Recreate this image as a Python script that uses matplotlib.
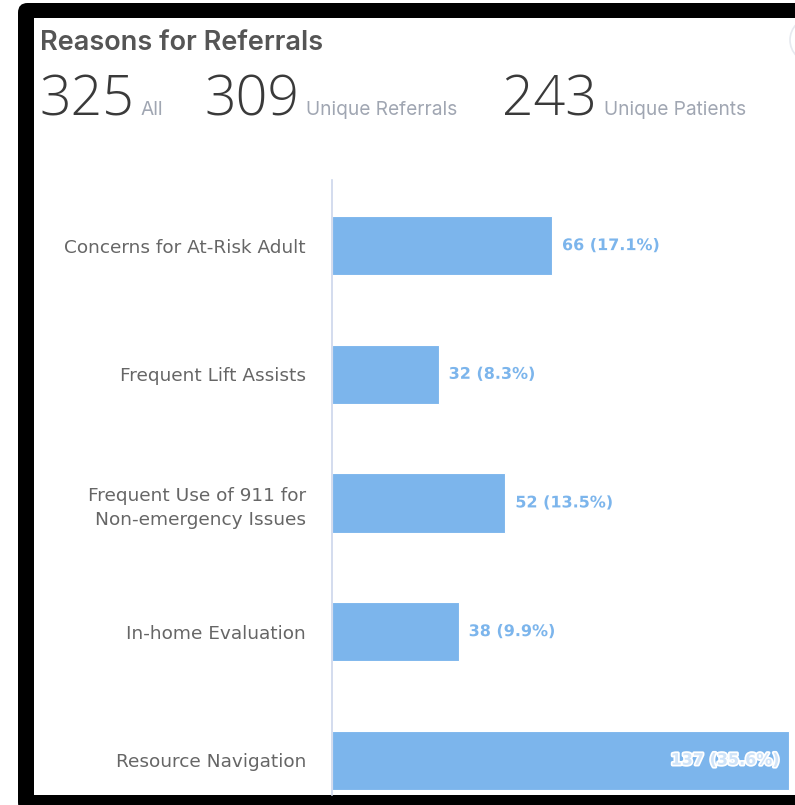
import matplotlib
matplotlib.use("Agg")
import matplotlib.pyplot as plt
from matplotlib.patches import FancyBboxPatch, Rectangle, Circle
import matplotlib.patheffects as pe

categories = [
    "Concerns for At-Risk Adult",
    "Frequent Lift Assists",
    "Frequent Use of 911 for\nNon-emergency Issues",
    "In-home Evaluation",
    "Resource Navigation",
]
counts = [66, 32, 52, 38, 137]
percents = [17.1, 8.3, 13.5, 9.9, 35.6]

summary_values = ["325", "309", "243"]
summary_labels = ["All", "Unique Referrals", "Unique Patients"]

W, H = 795, 805
fig = plt.figure(figsize=(W / 100, H / 100), dpi=100)
fig.patch.set_facecolor("white")


def fx(px):
    return px / W


def fy(py):
    return 1 - py / H


# dark frame around the white card
frame = FancyBboxPatch((fx(18), fy(812)), fx(800), 809 / H,
                       boxstyle="round,pad=0,rounding_size=0.012",
                       transform=fig.transFigure, facecolor="black",
                       edgecolor="none", zorder=0)
fig.patches.append(frame)
card = Rectangle((fx(34), fy(795)), fx(761), 777 / H,
                 transform=fig.transFigure, facecolor="white",
                 edgecolor="none", zorder=1)
fig.patches.append(card)
button = Circle((fx(812), fy(40)), fx(22), transform=fig.transFigure,
                facecolor="white", edgecolor="#e6e9ef", lw=1.2, zorder=2)
fig.patches.append(button)

# header
fig.text(fx(40), fy(50.5), "Reasons for Referrals", fontsize=19.5,
         fontweight="semibold", color="#555555", family="Inter",
         va="baseline", ha="left")

num_x = [40, 205, 503]
for x, val, lab in zip(num_x, summary_values, summary_labels):
    t = fig.text(fx(x - 1), fy(115), val, fontsize=40, fontweight="light",
                 color="#3a3a3a", family="Open Sans", va="baseline", ha="left")
    fig.canvas.draw()
    bb = t.get_window_extent()
    fig.text((bb.x1 + 7) / W, fy(115), lab, fontsize=13.8, color="#a0a6b2",
             family="Inter", va="baseline", ha="left")

# bar chart
ax_left, ax_right, ax_top, ax_bottom = 332, 795, 180, 795
ax = fig.add_axes([fx(ax_left), fy(ax_bottom), fx(ax_right - ax_left),
                   (ax_bottom - ax_top) / H], zorder=3)
ax.set_facecolor("none")

ypos = list(range(len(categories)))
bar_color = "#7cb5ec"
ax.barh(ypos, counts, height=0.46, color=bar_color, edgecolor="white",
        linewidth=0.8, zorder=2, clip_on=False)

xmax = 138.9
ax.set_xlim(0, xmax)
ax.set_ylim(4.27, -0.51)

for y, c, p in zip(ypos, counts, percents):
    label = f"{c} ({p}%)"
    if c > xmax * 0.85:
        ax.text(c - 2.7, y, label, ha="right", va="center", fontsize=11.5,
                fontweight="bold", color="#cfe3f8", family="DejaVu Sans",
                path_effects=[pe.withStroke(linewidth=2.5, foreground="white")],
                zorder=4)
    else:
        ax.text(c + 3, y, label, ha="left", va="center",
                fontsize=11.5, fontweight="bold", color=bar_color,
                family="DejaVu Sans",
                path_effects=[pe.withStroke(linewidth=1.5, foreground="white")],
                zorder=4)

ax.set_yticks(ypos)
ax.set_yticklabels(categories)
for lbl in ax.get_yticklabels():
    lbl.set_fontfamily("DejaVu Sans")
    lbl.set_fontsize(13.3)
    lbl.set_color("#666666")
    lbl.set_linespacing(1.4)
ax.tick_params(axis="y", length=0, pad=18.7)
ax.set_xticks([])
for s in ["top", "right", "bottom"]:
    ax.spines[s].set_visible(False)
ax.spines["left"].set_color("#ccd6eb")
ax.spines["left"].set_linewidth(1.2)

fig.savefig("out.png", dpi=100)
